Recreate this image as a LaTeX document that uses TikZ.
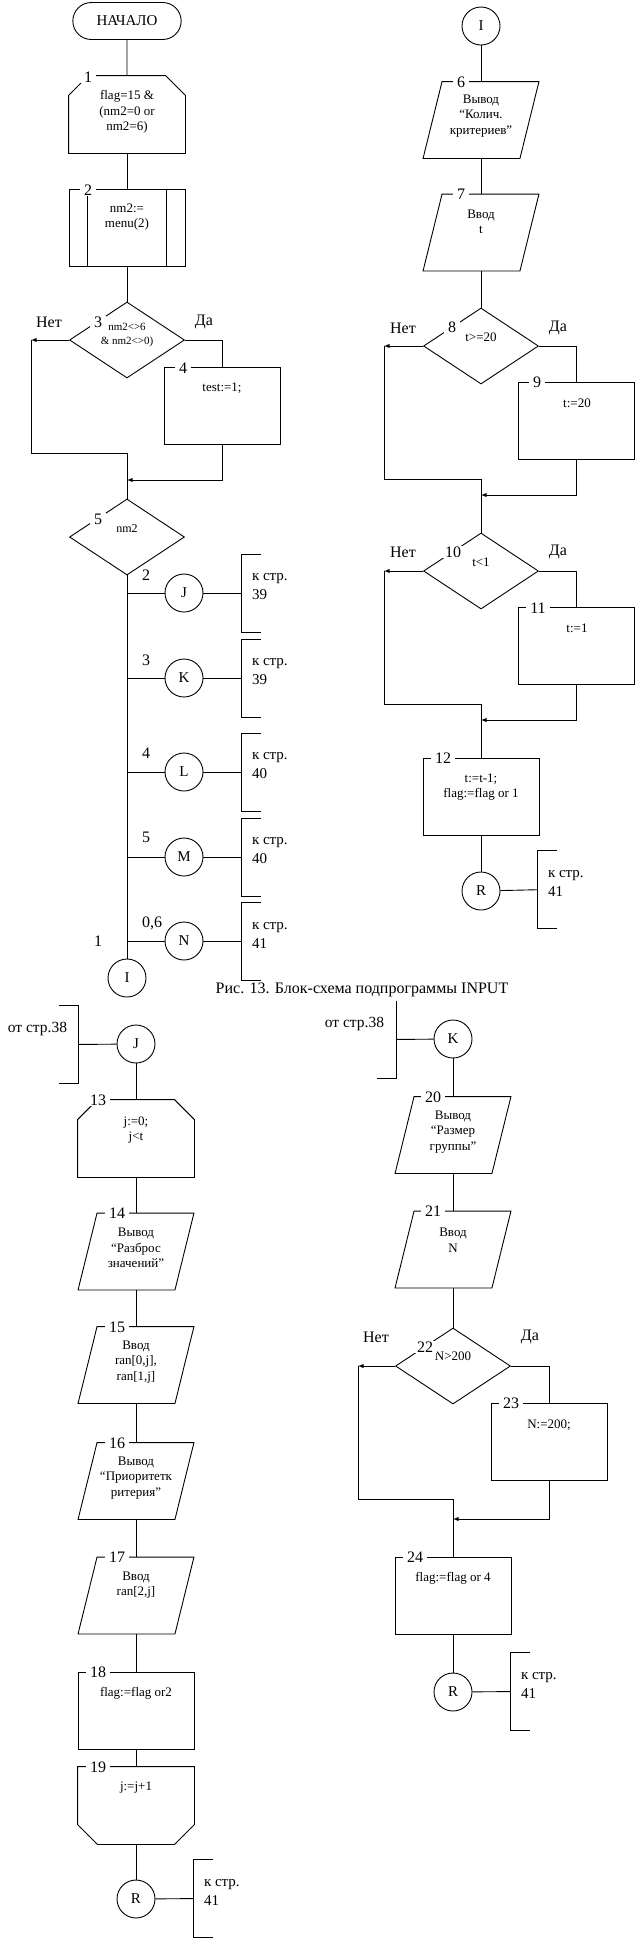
\documentclass[tikz,border=0pt]{standalone}
\usepackage{fontspec}
\setmainfont{Liberation Serif}
\usetikzlibrary{shapes,arrows}

\tikzset{
  term/.style={rounded rectangle, draw, minimum width=115pt, minimum height=37pt, font=\fontsize{15}{15}\selectfont},
  blk/.style={rectangle, draw, minimum width=116pt, minimum height=77pt, inner sep=0pt},
  io/.style={rectangle, minimum width=115pt, minimum height=76pt, inner sep=0pt,
    append after command={\pgfextra{\let\iobox\tikzlastnode
      \draw ([xshift=19pt]\iobox.north west) -- (\iobox.north east) -- ([xshift=-19pt]\iobox.south east) -- (\iobox.south west) -- cycle;}}},
  loopa/.style={rectangle, minimum width=116pt, minimum height=77pt, inner sep=0pt,
    append after command={\pgfextra{\let\lpbox\tikzlastnode
      \draw ([yshift=-20pt]\lpbox.north west) -- ([xshift=20pt]\lpbox.north west) -- ([xshift=-20pt]\lpbox.north east) -- ([yshift=-20pt]\lpbox.north east) -- (\lpbox.south east) -- (\lpbox.south west) -- cycle;}}},
  loopb/.style={rectangle, minimum width=116pt, minimum height=77pt, inner sep=0pt,
    append after command={\pgfextra{\let\lpbox\tikzlastnode
      \draw (\lpbox.north west) -- (\lpbox.north east) -- ([yshift=20pt]\lpbox.south east) -- ([xshift=-20pt]\lpbox.south east) -- ([xshift=20pt]\lpbox.south west) -- ([yshift=20pt]\lpbox.south west) -- cycle;}}},
  dec/.style={diamond, draw, minimum width=115pt, minimum height=76pt, inner sep=0pt},
  con/.style={circle, draw, minimum size=38pt, inner sep=0pt, font=\fontsize{15}{15}\selectfont},
  brk/.style={rectangle, minimum width=19pt, minimum height=77pt, inner sep=0pt},
  txt/.style={font=\fontsize{13}{15.5}\selectfont, align=center, inner sep=0pt},
  lbl/.style={font=\fontsize{16}{16}\selectfont, inner sep=1pt},
  nr/.style={lbl, fill=white, inner xsep=4pt},
  pg/.style={font=\fontsize{15}{19}\selectfont, align=left, inner xsep=10pt, inner ysep=0pt}
}

\begin{document}
\begin{tikzpicture}[x=1pt, y=-1pt, line width=0.9pt]
\useasboundingbox (0,0) rectangle (635,1939);

% Main part
\node[term] (start) at (127,21) {НАЧАЛО};
\node[loopa] (b1) at (127,114.5) {};
\node[txt] (t1) at (127,112) {flag=15 \&\\(nm2=0 or\\nm2=6)};
\node[blk] (b2) at (127,227.5) {};
\draw ([xshift=19pt]b2.north west) -- ([xshift=19pt]b2.south west);
\draw ([xshift=-19pt]b2.north east) -- ([xshift=-19pt]b2.south east);
\node[txt] (t2) at (127,217) {nm2:=\\menu(2)};
\node[dec] (d3) at (127,340) {};
\node[txt, font=\fontsize{11}{14}\selectfont] (t3) at (127,335) {nm2<>6\\\& nm2<>0)};
\node[blk] (b4) at (222.5,405.5) {};
\node[txt] (t4) at (222,388) {test:=1;};
\node[dec] (d5) at (127,537) {};
\node[txt, font=\fontsize{12}{14}\selectfont] (t5) at (127,529) {nm2};
\node[lbl] (no3) at (49,322) {Нет};
\node[lbl] (yes3) at (204,322) {Да};

\coordinate (c3n) at (31,340);
\coordinate (c3s) at (31,453);
\coordinate (m3a) at (127,453);
\coordinate (m3b) at (127,480);
\draw (start) -- (b1);
\draw (b1) -- (b2);
\draw (b2) -- (d3);
\draw[-latex] (d3.west) -- (c3n);
\draw (c3n) -- (c3s) -- (m3a) -- (d5.north);
\draw (d3.east) -| (b4.north);
\draw[-latex] (b4.south) |- (m3b);

% Switch on nm2
\node[con] (J1) at (184,593) {J};
\node[con] (K1) at (184,678) {K};
\node[con] (L1) at (184,772) {L};
\node[con] (M1) at (184,857) {M};
\node[con] (N1) at (184,941) {N};
\node[con] (I1) at (127,978) {I};
\draw (d5.south) -- (I1.north);
\draw (J1.west -| d5.south) -- (J1);
\draw (K1.west -| d5.south) -- (K1);
\draw (L1.west -| d5.south) -- (L1);
\draw (M1.west -| d5.south) -- (M1);
\draw (N1.west -| d5.south) -- (N1);
\node[lbl] (v2) at (146,575) {2};
\node[lbl] (v3) at (146,660) {3};
\node[lbl] (v4) at (146,753) {4};
\node[lbl] (v5) at (146,837) {5};
\node[lbl] (v6) at (152,923) {0,6};
\node[lbl] (v1) at (98,941) {1};

\node[brk] (bJ1) at (251.5,593) {};
\node[brk] (bK1) at (251.5,678) {};
\node[brk] (bL1) at (251.5,772) {};
\node[brk] (bM1) at (251.5,857) {};
\node[brk] (bN1) at (251.5,941) {};
\draw (bJ1.north east) -- (bJ1.north west) -- (bJ1.south west) -- (bJ1.south east);
\draw (bK1.north east) -- (bK1.north west) -- (bK1.south west) -- (bK1.south east);
\draw (bL1.north east) -- (bL1.north west) -- (bL1.south west) -- (bL1.south east);
\draw (bM1.north east) -- (bM1.north west) -- (bM1.south west) -- (bM1.south east);
\draw (bN1.north east) -- (bN1.north west) -- (bN1.south west) -- (bN1.south east);
\draw (J1) -- (bJ1);
\draw (K1) -- (bK1);
\draw (L1) -- (bL1);
\draw (M1) -- (bM1);
\draw (N1) -- (bN1);
\node[pg, anchor=west] (pJ1) at ([yshift=6pt]bJ1.west) {к стр.\\39};
\node[pg, anchor=west] (pK1) at ([yshift=6pt]bK1.west) {к стр.\\39};
\node[pg, anchor=west] (pL1) at ([yshift=6pt]bL1.west) {к стр.\\40};
\node[pg, anchor=west] (pM1) at ([yshift=6pt]bM1.west) {к стр.\\40};
\node[pg, anchor=west] (pN1) at ([yshift=6pt]bN1.west) {к стр.\\41};

% Connector I
\node[con] (I2) at (481,26) {I};
\node[io] (b6) at (481,120) {};
\node[txt] (t6) at (481,116) {Вывод\\“Колич.\\критериев”};
\node[io] (b7) at (481,232.5) {};
\node[txt] (t7) at (481,222) {Ввод\\t};
\node[dec] (d8) at (481,346) {};
\node[txt] (t8) at (481,337) {t>=20};
\node[blk] (b9) at (576,420.5) {};
\node[txt] (t9) at (577,403) {t:=20};
\node[dec] (d10) at (481,571) {};
\node[txt] (t10) at (481,562) {t<1};
\node[blk] (b11) at (576,646) {};
\node[txt] (t11) at (577,628) {t:=1};
\node[blk] (b12) at (481,796.5) {};
\node[txt] (t12) at (481,787) {t:=t-1;\\flag:=flag or 1};
\node[con] (R2) at (481,891) {R};
\node[brk] (bR2) at (547.5,889.5) {};
\draw (bR2.north east) -- (bR2.north west) -- (bR2.south west) -- (bR2.south east);
\node[pg, anchor=west] (pR2) at ([yshift=6pt]bR2.west) {к стр.\\41};
\node[lbl] (no8) at (403,328) {Нет};
\node[lbl] (yes8) at (558,328) {Да};
\node[lbl] (no10) at (403,552) {Нет};
\node[lbl] (yes10) at (558,552) {Да};

\coordinate (c8n) at (384,346);
\coordinate (c8s) at (384,479);
\coordinate (m8a) at (481,479);
\coordinate (m8b) at (481,495);
\coordinate (c10n) at (384,571);
\coordinate (c10s) at (384,704);
\coordinate (m10a) at (481,704);
\coordinate (m10b) at (481,720);
\draw (I2) -- (b6);
\draw (b6) -- (b7);
\draw (b7) -- (d8);
\draw[-latex] (d8.west) -- (c8n);
\draw (c8n) -- (c8s) -- (m8a) -- (d10.north);
\draw (d8.east) -| (b9.north);
\draw[-latex] (b9.south) |- (m8b);
\draw[-latex] (d10.west) -- (c10n);
\draw (c10n) -- (c10s) -- (m10a) -- (b12.north);
\draw (d10.east) -| (b11.north);
\draw[-latex] (b11.south) |- (m10b);
\draw (b12) -- (R2);
\draw (R2) -- (bR2);

\node[font=\fontsize{16}{16}\selectfont, inner sep=0pt] (cap) at (362,990) {Рис. 13. Блок-схема подпрограммы INPUT};

% Connector J
\node[con] (J2) at (136,1044) {J};
\node[brk] (bJ2) at (68.5,1044.5) {};
\draw (bJ2.north west) -- (bJ2.north east) -- (bJ2.south east) -- (bJ2.south west);
\node[pg, font=\fontsize{15.5}{19}\selectfont, inner xsep=11pt, anchor=east] (pJ2) at ([yshift=16pt]bJ2.east) {от стр.38};
\node[loopa] (b13) at (136,1138.5) {};
\node[txt] (t13) at (136,1130) {j:=0;\\j<t};
\node[io] (b14) at (136,1251.5) {};
\node[txt] (t14) at (136,1248) {Вывод\\“Разброс\\значений”};
\node[io] (b15) at (136,1365) {};
\node[txt] (t15) at (136,1362) {Ввод\\ran[0,j],\\ran[1,j]};
\node[io] (b16) at (136,1481) {};
\node[txt] (t16) at (136,1478) {Вывод\\“Приоритетк\\ритерия”};
\node[io] (b17) at (136,1595.5) {};
\node[txt] (t17) at (136,1585) {Ввод\\ran[2,j]};
\node[blk] (b18) at (136,1710.5) {};
\node[txt] (t18) at (136,1693) {flag:=flag or2};
\node[loopb] (b19) at (136,1805.5) {};
\node[txt] (t19) at (136,1788) {j:=j+1};
\node[con] (R3) at (136,1899) {R};
\node[brk] (bR3) at (203.5,1898.5) {};
\draw (bR3.north east) -- (bR3.north west) -- (bR3.south west) -- (bR3.south east);
\node[pg, anchor=west] (pR3) at ([yshift=6pt]bR3.west) {к стр.\\41};
\draw (bJ2) -- (J2);
\draw (J2) -- (b13);
\draw (b13) -- (b14);
\draw (b14) -- (b15);
\draw (b15) -- (b16);
\draw (b16) -- (b17);
\draw (b17) -- (b18);
\draw (b18) -- (b19);
\draw (b19) -- (R3);
\draw (R3) -- (bR3);

% Connector K
\node[con] (K2) at (453,1039) {K};
\node[brk] (bK2) at (386.5,1039.5) {};
\draw (bK2.north east) -- (bK2.south east) -- (bK2.south west);
\node[pg, font=\fontsize{15.5}{19}\selectfont, inner xsep=12pt, anchor=east] (pK2) at ([yshift=16pt]bK2.east) {от стр.38};
\node[io] (b20) at (453,1135) {};
\node[txt] (t20) at (453,1132) {Вывод\\“Размер\\группы”};
\node[io] (b21) at (453,1249.5) {};
\node[txt] (t21) at (453,1240) {Ввод\\N};
\node[dec] (d22) at (453,1366) {};
\node[txt] (t22) at (453,1356) {N>200};
\node[blk] (b23) at (549,1441.5) {};
\node[txt] (t23) at (549,1425) {N:=200;};
\node[blk] (b24) at (453,1595.5) {};
\node[txt] (t24) at (453,1578) {flag:=flag or 4};
\node[con] (R4) at (453,1692) {R};
\node[brk] (bR4) at (520.5,1691.5) {};
\draw (bR4.north east) -- (bR4.north west) -- (bR4.south west) -- (bR4.south east);
\node[pg, anchor=west] (pR4) at ([yshift=6pt]bR4.west) {к стр.\\41};
\node[lbl] (no22) at (376,1337) {Нет};
\node[lbl] (yes22) at (530,1337) {Да};

\coordinate (c22n) at (358,1366);
\coordinate (c22s) at (358,1499);
\coordinate (m22a) at (453,1499);
\coordinate (m22b) at (453,1519);
\draw (bK2) -- (K2);
\draw (K2) -- (b20);
\draw (b20) -- (b21);
\draw (b21) -- (d22);
\draw[-latex] (d22.west) -- (c22n);
\draw (c22n) -- (c22s) -- (m22a) -- (b24.north);
\draw (d22.east) -| (b23.north);
\draw[-latex] (b23.south) |- (m22b);
\draw (b24) -- (R4);
\draw (R4) -- (bR4);

% Block numbers
\node[nr] (n1) at (88,77) {1};
\node[nr] (n2) at (88,190) {2};
\node[nr] (n3) at (98,322) {3};
\node[nr] (n4) at (183,368) {4};
\node[nr] (n5) at (98,519) {5};
\node[nr] (n6) at (461,82) {6};
\node[nr] (n7) at (461,194) {7};
\node[nr] (n8) at (452,327) {8};
\node[nr] (n9) at (537,382) {9};
\node[nr] (n10) at (453,552) {10};
\node[nr] (n11) at (538,608) {11};
\node[nr] (n12) at (443,758) {12};
\node[nr] (n13) at (98,1100) {13};
\node[nr] (n14) at (117,1213) {14};
\node[nr] (n15) at (117,1327) {15};
\node[nr] (n16) at (117,1443) {16};
\node[nr] (n17) at (117,1557) {17};
\node[nr] (n18) at (98,1672) {18};
\node[nr] (n19) at (98,1767) {19};
\node[nr] (n20) at (433,1097) {20};
\node[nr] (n21) at (433,1211) {21};
\node[nr] (n22) at (425,1347) {22};
\node[nr] (n23) at (511,1403) {23};
\node[nr] (n24) at (415,1557) {24};
\end{tikzpicture}
\end{document}
